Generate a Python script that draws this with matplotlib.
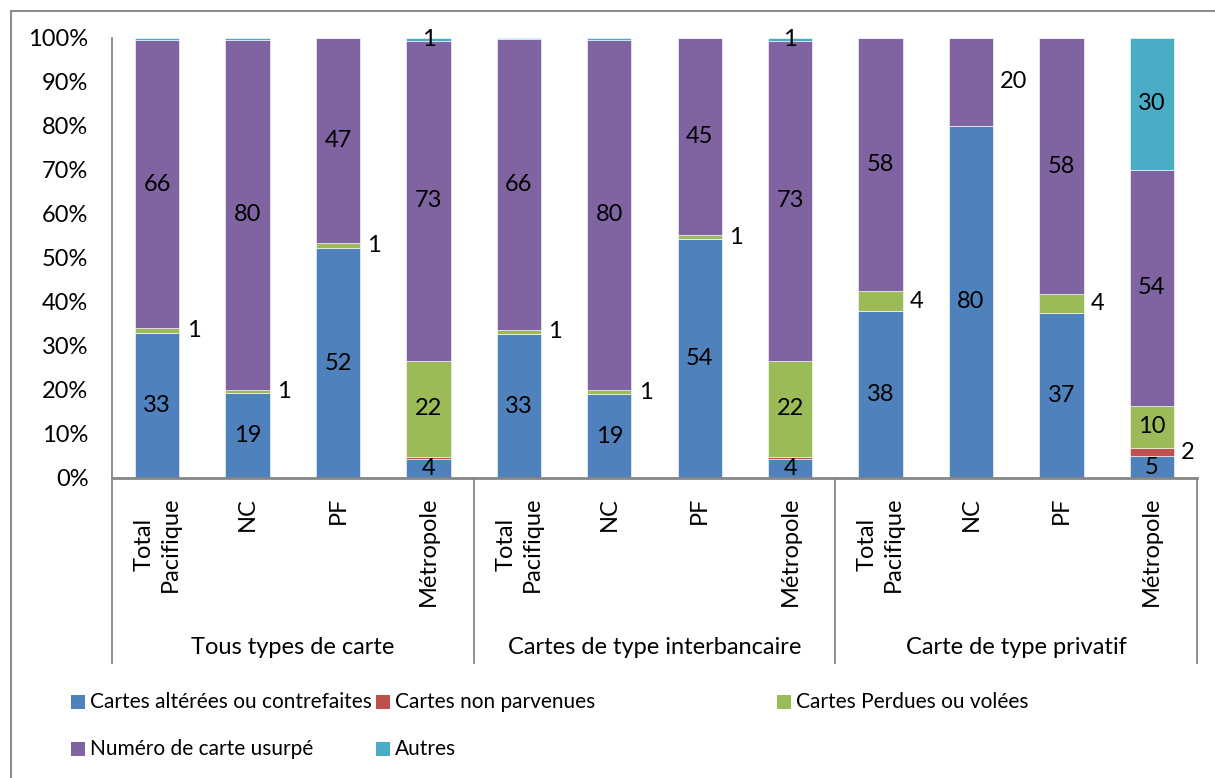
import matplotlib
matplotlib.use("Agg")
import matplotlib.pyplot as plt
from matplotlib.lines import Line2D
from matplotlib.patches import Rectangle
from matplotlib.transforms import blended_transform_factory

plt.rcParams['font.family'] = ['Lato', 'DejaVu Sans']

# ---- data (percent of cards per fraud type) ----
bar_labels = ["Total\nPacifique", "NC", "PF", "Métropole"] * 3
group_labels = ["Tous types de carte", "Cartes de type interbancaire", "Carte de type privatif"]
series_names = ["Cartes altérées ou contrefaites", "Cartes non parvenues",
                "Cartes Perdues ou volées", "Numéro de carte usurpé", "Autres"]

alterees = [33.0, 19.3, 52.2, 4.4, 32.7, 19.0, 54.3, 4.4, 38.0, 80.0, 37.4, 5.0]
non_parvenues = [0.0, 0.0, 0.0, 0.4, 0.0, 0.0, 0.0, 0.4, 0.0, 0.0, 0.0, 1.8]
perdues = [1.0, 0.7, 1.2, 21.9, 1.0, 1.0, 0.9, 21.9, 4.4, 0.0, 4.4, 9.6]
usurpe = [65.6, 79.6, 46.6, 72.6, 66.0, 79.6, 44.8, 72.6, 57.6, 20.0, 58.2, 53.7]
autres = [0.4, 0.4, 0.0, 0.7, 0.3, 0.4, 0.0, 0.7, 0.0, 0.0, 0.0, 29.9]

series = [alterees, non_parvenues, perdues, usurpe, autres]
colors = ["#4F81BD", "#C0504D", "#9BBB59", "#8064A2", "#4BACC6"]
yticks = list(range(0, 101, 10))

# segments whose label sits to the right of the bar: (bar index, series index)
outside = {(0, 2), (1, 2), (2, 2), (4, 2), (5, 2), (6, 2), (8, 2), (10, 2),
           (11, 1), (9, 3)}

W, H = 1215, 778
FS = 17
FS_LEG = 15
fig = plt.figure(figsize=(W / 100, H / 100), dpi=100)
ax = fig.add_axes([112 / W, 1 - 478 / H, (1197 - 112) / W, (478 - 38) / H])

x = list(range(len(bar_labels)))
width = 0.49
bottoms = [0.0] * len(x)
for s, (vals, col) in enumerate(zip(series, colors)):
    ax.bar(x, vals, width, bottom=bottoms, color=col, edgecolor="white",
           linewidth=0.4, zorder=2)
    for i, v in enumerate(vals):
        if round(v) >= 1:
            mid = bottoms[i] + v / 2
            if (i, s) in outside:
                ax.text(i + width / 2 + 0.08, mid, f"{v:.0f}", ha="left",
                        va="center", fontsize=FS, color="black")
            else:
                ax.text(i, mid, f"{v:.0f}", ha="center", va="center",
                        fontsize=FS, color="black")
    bottoms = [b + v for b, v in zip(bottoms, vals)]

ax.set_xlim(-0.5, 11.5)
ax.set_ylim(0, 100)
ax.set_yticks(yticks)
ax.set_yticklabels([f"{t}%" for t in yticks], fontsize=FS)
ax.tick_params(axis="y", length=0, pad=17)
ax.set_xticks([])
for side in ("top", "right"):
    ax.spines[side].set_visible(False)
ax.spines["left"].set_color("#868686")
ax.spines["left"].set_linewidth(1.3)
ax.spines["bottom"].set_color("#868686")
ax.spines["bottom"].set_linewidth(2.0)

# multi-level category axis
tr = blended_transform_factory(ax.transData, ax.transAxes)
for i, lab in enumerate(bar_labels):
    ax.text(i, -0.043, lab, transform=tr, rotation=90, ha="center", va="top",
            fontsize=FS, linespacing=1.3)
for g, lab in enumerate(group_labels):
    ax.text(4 * g + 1.5, -0.386, lab, transform=tr, ha="center", va="center",
            fontsize=FS)
for xb in (-0.5, 3.5, 7.5, 11.5):
    ax.add_line(Line2D([xb, xb], [0, -0.42], transform=tr, color="#868686",
                       linewidth=1.3, clip_on=False))

# legend
legend_pos = [(71, 702), (376, 702), (777, 702), (71, 749), (376, 749)]
for (px, py), name, col in zip(legend_pos, series_names, colors):
    fig.add_artist(Rectangle((px / W, 1 - (py + 7) / H), 14 / W, 14 / H,
                             transform=fig.transFigure, facecolor=col,
                             edgecolor="none"))
    fig.text((px + 19) / W, 1 - py / H, name, ha="left", va="center",
             fontsize=FS_LEG)

# chart frame
fig.add_artist(Line2D([11 / W, 11 / W], [0, 1 - 11 / H], transform=fig.transFigure,
                      color="#8c8c8c", linewidth=1.5))
fig.add_artist(Line2D([11 / W, 1], [1 - 11 / H, 1 - 11 / H], transform=fig.transFigure,
                      color="#8c8c8c", linewidth=1.5))

fig.savefig("out.png", dpi=100)
